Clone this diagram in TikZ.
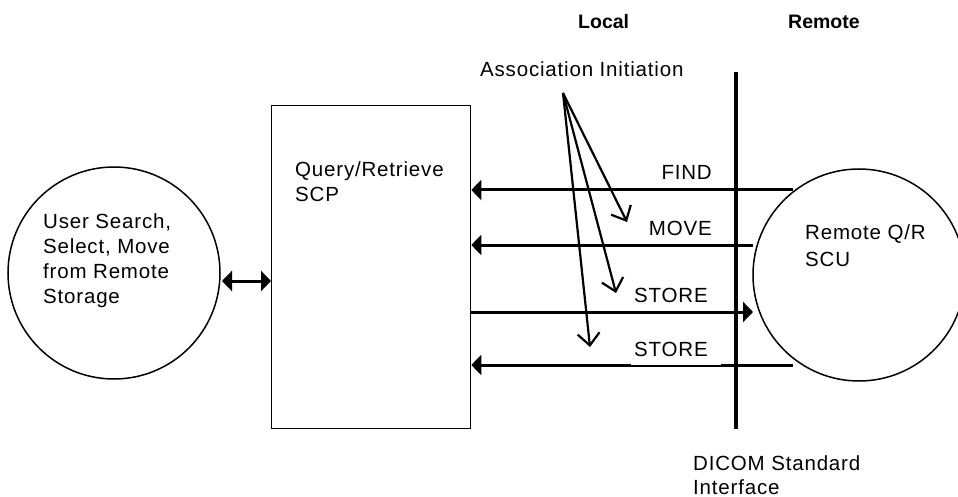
\documentclass[tikz,border=0pt]{standalone}
\usepackage{fontspec}
\setmainfont{Liberation Sans}[LetterSpace=4]
\newfontfamily\hdrfont{Liberation Sans}
\usetikzlibrary{arrows.meta}
\begin{document}
\begin{tikzpicture}[x=1pt,y=-1pt,
  lbl/.style={inner sep=0pt, font=\fontsize{20.5}{25}\selectfont},
  hdr/.style={inner sep=0pt, font=\hdrfont\bfseries\fontsize{19.5}{23}\selectfont},
  bubble/.style={circle, draw, line width=1.5pt, minimum size=212pt, inner sep=0pt},
  flow/.style={line width=3pt, -{Triangle[length=10pt,width=20pt]}},
  assoc/.style={line width=2.2pt, -{Straight Barb[length=12pt,width=22pt]}}]
\useasboundingbox (0,0) rectangle (958,497);
\begin{scope}
\clip (0,0) rectangle (958,497);
% circles and box
\node[bubble] (user) at (114,273) {};
\node[bubble] (scu) at (859,275) {};
\node[draw, line width=1.3pt, minimum width=199pt, minimum height=323pt,
      inner sep=0pt, anchor=north west] (scp) at (271,105) {};
\end{scope}
% interface line
\coordinate (ifTop) at (736,72);
\coordinate (ifBot) at (736,429);
\draw[line width=4pt] (ifTop) -- (ifBot);
% double arrow
\coordinate (dl) at (222,281);
\draw[line width=3pt, {Triangle[length=10pt,width=20pt]}-{Triangle[length=10pt,width=20pt]}] (dl) -- (dl -| scp.west);
% message arrows
\coordinate (findR) at (793,190);
\coordinate (moveR) at (753,245);
\coordinate (storeR) at (753,312);
\coordinate (store2R) at (793,365);
\draw[flow] (findR) -- (findR -| scp.east);
\draw[flow] (moveR) -- (moveR -| scp.east);
\draw[flow] (storeR -| scp.east) -- (storeR);
\draw[flow] (store2R) -- (store2R -| scp.east);
\fill[white] (631,361) rectangle (721,364.6);
% labels
\node[lbl, anchor=base east] (findL) at (712,180) {FIND};
\node[lbl, anchor=base east] (moveL) at (712,236) {MOVE};
\node[lbl, anchor=base west] (storeL) at (634,302) {STORE};
\node[lbl, anchor=base west] (store2L) at (634,356) {STORE};
% association initiation
\node[lbl, anchor=base west] (assocL) at (480,77) {Association Initiation};
\coordinate (aorig) at (563,93);
\coordinate (a1) at (627,222);
\coordinate (a2) at (616,293);
\coordinate (a3) at (590,347);
\draw[assoc] (aorig) -- (a1);
\draw[assoc] (aorig) -- (a2);
\draw[assoc] (aorig) -- (a3);
% texts
\node[lbl, anchor=base west] (u1) at (43,228) {User Search,};
\node[lbl, anchor=base west] (u2) at (43,253) {Select, Move};
\node[lbl, anchor=base west] (u3) at (43,278) {from Remote};
\node[lbl, anchor=base west] (u4) at (43,303) {Storage};
\node[lbl, anchor=base west] (q1) at (295,177) {Query/Retrieve};
\node[lbl, anchor=base west] (q2) at (295,202) {SCP};
\node[lbl, anchor=base west] (r1) at (805,240) {Remote Q/R};
\node[lbl, anchor=base west] (r2) at (805,266) {SCU};
\node[lbl, anchor=base west] (d1) at (693,470) {DICOM Standard};
\node[lbl, anchor=base west] (d2) at (693,494) {Interface};
\node[hdr, anchor=base west] (local) at (578,29) {Local};
\node[hdr, anchor=base west] (remote) at (788,29) {Remote};
\end{tikzpicture}
\end{document}
